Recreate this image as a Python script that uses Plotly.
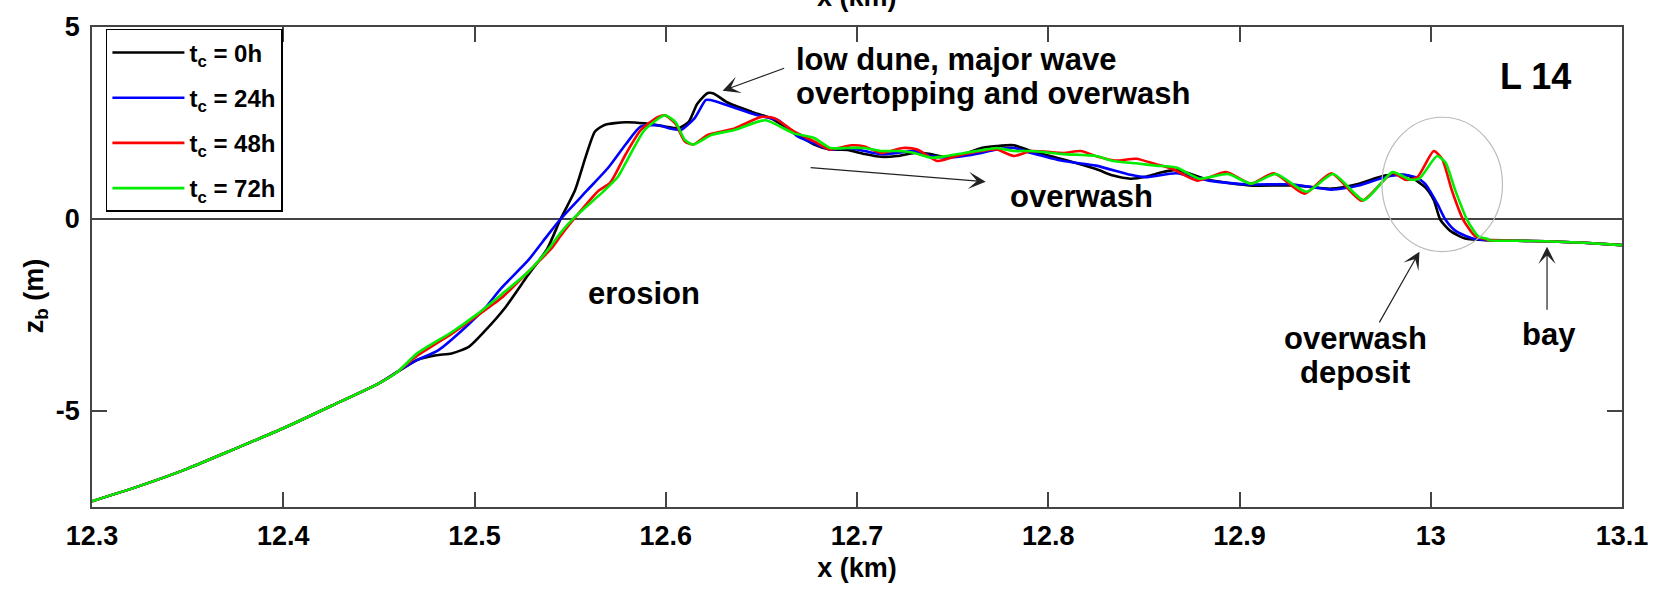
import plotly.graph_objects as go

# ---------------- data (x in km, z_b in m) ----------------
x_common = [12.3, 12.325, 12.35, 12.375, 12.4, 12.425, 12.45, 12.46]
z_common = [-7.35, -6.95, -6.5, -5.98, -5.45, -4.87, -4.28, -3.97]
x_bay = [13.03, 13.045, 13.06, 13.08, 13.1]
z_bay = [-0.55, -0.565, -0.58, -0.62, -0.68]

x_0h = [12.47, 12.48, 12.488, 12.497, 12.5057, 12.516, 12.528, 12.538, 12.545, 12.5525,
        12.558, 12.563, 12.568, 12.579, 12.589, 12.5995, 12.6065, 12.612, 12.6165, 12.622,
        12.625, 12.632, 12.645, 12.655, 12.665, 12.6776, 12.686, 12.695, 12.704, 12.7125,
        12.721, 12.730, 12.7385, 12.747, 12.756, 12.765, 12.773, 12.782, 12.791, 12.808,
        12.825, 12.834, 12.843, 12.851, 12.858, 12.867, 12.884, 12.905, 12.928, 12.948,
        12.9625, 12.976, 12.988, 12.997, 13.0016, 13.005, 13.0102, 13.018, 13.0295]
z_0h = [-3.67, -3.55, -3.5, -3.33, -2.9, -2.31, -1.46, -0.78, 0.0, 0.74,
        1.6, 2.28, 2.45, 2.52, 2.49, 2.41, 2.36, 2.53, 3.0, 3.28,
        3.27, 3.04, 2.79, 2.62, 2.32, 1.94, 1.81, 1.8, 1.69, 1.62,
        1.64, 1.72, 1.69, 1.6, 1.69, 1.85, 1.9, 1.92, 1.77, 1.55,
        1.3, 1.13, 1.05, 1.1, 1.2, 1.28, 1.02, 0.875, 0.875, 0.79,
        0.92, 1.13, 1.13, 0.83, 0.49, -0.02, -0.31, -0.51, -0.55]

x_24h = [12.47, 12.481, 12.497, 12.5057, 12.514, 12.528, 12.538, 12.545, 12.559, 12.570,
         12.579, 12.587, 12.596, 12.603, 12.608, 12.615, 12.621, 12.6235, 12.634, 12.648,
         12.659, 12.669, 12.6776, 12.686, 12.695, 12.704, 12.7125, 12.721, 12.730, 12.7385,
         12.747, 12.756, 12.765, 12.773, 12.782, 12.791, 12.808, 12.825, 12.843, 12.851,
         12.867, 12.884, 12.905, 12.928, 12.948, 12.9625, 12.976, 12.985, 12.992, 12.997,
         13.0033, 13.0077, 13.013, 13.0216, 13.030]
z_24h = [-3.67, -3.42, -2.74, -2.31, -1.8, -1.08, -0.44, 0.0, 0.75, 1.34,
         1.94, 2.41, 2.44, 2.35, 2.32, 2.62, 3.1, 3.1, 2.93, 2.70,
         2.57, 2.15, 1.97, 1.81, 1.85, 1.77, 1.69, 1.72, 1.77, 1.64,
         1.6, 1.64, 1.72, 1.81, 1.85, 1.72, 1.51, 1.39, 1.15, 1.09,
         1.19, 1.0, 0.9, 0.9, 0.765, 0.875, 1.09, 1.16, 1.09, 0.92,
         0.41, -0.02, -0.31, -0.5, -0.55]

x_48h = [12.47, 12.488, 12.5, 12.514, 12.528, 12.540, 12.545, 12.552, 12.565, 12.571,
         12.579, 12.587, 12.596, 12.5995, 12.605, 12.610, 12.6145, 12.622, 12.636, 12.650,
         12.657, 12.667, 12.6776, 12.686, 12.697, 12.704, 12.7125, 12.724, 12.7315, 12.742,
         12.752, 12.765, 12.773, 12.782, 12.791, 12.808, 12.817, 12.826, 12.835, 12.846,
         12.856, 12.865, 12.878, 12.893, 12.906, 12.918, 12.934, 12.948, 12.964, 12.980,
         12.987, 12.993, 13.0016, 13.006, 13.011, 13.017, 13.023, 13.028]
z_48h = [-3.56, -2.99, -2.57, -2.06, -1.38, -0.78, -0.44, 0.0, 0.74, 0.95,
         1.68, 2.32, 2.66, 2.70, 2.49, 2.02, 1.94, 2.19, 2.36, 2.66,
         2.62, 2.28, 2.02, 1.81, 1.92, 1.89, 1.72, 1.85, 1.81, 1.51,
         1.64, 1.77, 1.81, 1.64, 1.77, 1.72, 1.77, 1.62, 1.52, 1.57,
         1.43, 1.30, 1.0, 1.22, 0.92, 1.19, 0.66, 1.19, 0.475, 1.2,
         1.02, 1.09, 1.77, 1.56, 0.75, -0.02, -0.44, -0.52]

x_72h = [12.47, 12.488, 12.5, 12.514, 12.528, 12.540, 12.545, 12.552, 12.567, 12.575,
         12.581, 12.589, 12.5995, 12.605, 12.610, 12.6145, 12.624, 12.636, 12.652, 12.667,
         12.6776, 12.686, 12.695, 12.704, 12.7125, 12.721, 12.730, 12.7385, 12.747, 12.756,
         12.765, 12.773, 12.782, 12.791, 12.808, 12.825, 12.834, 12.846, 12.856, 12.867,
         12.879, 12.894, 12.906, 12.919, 12.935, 12.949, 12.965, 12.98, 12.989, 12.994,
         13.0033, 13.0077, 13.0128, 13.019, 13.025, 13.03]
z_72h = [-3.5, -2.95, -2.53, -1.97, -1.38, -0.70, -0.36, 0.03, 0.70, 1.1,
         1.64, 2.32, 2.70, 2.53, 2.06, 1.94, 2.19, 2.32, 2.57, 2.23,
         2.11, 1.85, 1.85, 1.85, 1.77, 1.77, 1.72, 1.6, 1.64, 1.72,
         1.79, 1.85, 1.77, 1.77, 1.69, 1.64, 1.51, 1.45, 1.39, 1.34,
         1.05, 1.17, 0.92, 1.17, 0.71, 1.17, 0.49, 1.22, 1.03, 1.05,
         1.64, 1.47, 0.75, -0.02, -0.46, -0.52]

series_names = ["t<sub>c</sub> = 0h", "t<sub>c</sub> = 24h", "t<sub>c</sub> = 48h", "t<sub>c</sub> = 72h"]
series_x = [x_0h, x_24h, x_48h, x_72h]
series_z = [z_0h, z_24h, z_48h, z_72h]
series_colors = ["#000000", "#0000ff", "#ff0000", "#00ee00"]

x_ticks = [12.3, 12.4, 12.5, 12.6, 12.7, 12.8, 12.9, 13.0, 13.1]
x_ticktext = ["12.3", "12.4", "12.5", "12.6", "12.7", "12.8", "12.9", "13", "13.1"]
y_ticks = [-5, 0, 5]
y_ticktext = ["-5", "0", "5"]

FONT = "Liberation Sans"
AX = "#444444"

fig = go.Figure()
for name, xs, zs, col in zip(series_names, series_x, series_z, series_colors):
    fig.add_trace(go.Scatter(
        x=x_common + xs + x_bay, y=z_common + zs + z_bay, mode="lines", name=name,
        line=dict(color=col, width=2.6, shape="spline", smoothing=0.6),
        legendgroup=name,
    ))

fig.update_layout(
    width=1660, height=590,
    margin=dict(l=92, r=33, t=20, b=80),
    paper_bgcolor="white", plot_bgcolor="white",
    font=dict(family=FONT, size=27, color="black", weight="bold"),
    showlegend=True,
    legend=dict(
        x=0.0091, y=0.996, xanchor="left", yanchor="top",
        bordercolor="black", borderwidth=1.5, bgcolor="white",
        font=dict(family=FONT, size=24, color="black", weight="bold"),
        itemwidth=72, tracegroupgap=11,
    ),
    xaxis=dict(
        range=[12.3, 13.1], tickvals=x_ticks, ticktext=x_ticktext,
        ticks="inside", ticklen=15, tickwidth=1.5, tickcolor=AX,
        showline=True, linecolor=AX, linewidth=1.5, mirror="ticks",
        showgrid=False, zeroline=False,
        tickfont=dict(size=27), ticklabelstandoff=4,
        title=dict(text="x (km)", font=dict(size=27), standoff=8),
    ),
    yaxis=dict(
        range=[-7.5, 5], tickvals=y_ticks, ticktext=y_ticktext,
        ticks="inside", ticklen=15, tickwidth=1.5, tickcolor=AX,
        showline=True, linecolor=AX, linewidth=1.5, mirror="ticks",
        showgrid=False, zeroline=True, zerolinecolor=AX, zerolinewidth=1.5,
        tickfont=dict(size=27), ticklabelstandoff=5,
    ),
)

# y axis title (positioned manually)
fig.add_annotation(text="z<sub>b</sub> (m)", textangle=-90, xref="paper", yref="paper",
                   x=-0.037, y=0.44, xanchor="center", yanchor="middle", showarrow=False,
                   font=dict(size=27))
# clipped title of the panel above
fig.add_annotation(text="x (km)", xref="paper", yref="paper", x=0.5, y=1.0,
                   xanchor="center", yanchor="bottom", yshift=13, showarrow=False,
                   font=dict(size=27))

TXT = dict(size=31, family=FONT, color="black", weight="bold")
fig.add_annotation(text="low dune, major wave", x=12.6672, y=4.16, xanchor="left",
                   yanchor="middle", showarrow=False, font=TXT)
fig.add_annotation(text="overtopping and overwash", x=12.6672, y=3.27, xanchor="left",
                   yanchor="middle", showarrow=False, font=TXT)
fig.add_annotation(text="L 14", x=13.0546, y=3.71, xanchor="center", yanchor="middle",
                   showarrow=False, font=dict(size=36, family=FONT, color="black", weight="bold"))
fig.add_annotation(text="overwash", x=12.779, y=0.58, xanchor="left", yanchor="middle",
                   showarrow=False, font=TXT)
fig.add_annotation(text="erosion", x=12.5887, y=-1.93, xanchor="center", yanchor="middle",
                   showarrow=False, font=TXT)
fig.add_annotation(text="overwash", x=12.9605, y=-3.1, xanchor="center", yanchor="middle",
                   showarrow=False, font=TXT)
fig.add_annotation(text="deposit", x=12.9605, y=-4.0, xanchor="center", yanchor="middle",
                   showarrow=False, font=TXT)
fig.add_annotation(text="bay", x=13.0618, y=-3.02, xanchor="center", yanchor="middle",
                   showarrow=False, font=TXT)

ARROW = dict(showarrow=True, arrowhead=3, arrowsize=2.4, arrowwidth=1.2,
             arrowcolor="#222222", axref="x", ayref="y", text="")
fig.add_annotation(x=12.6297, y=3.34, ax=12.6627, ay=3.94, **ARROW)
fig.add_annotation(x=12.7673, y=0.97, ax=12.675, ay=1.34, **ARROW)
fig.add_annotation(x=12.9941, y=-0.85, ax=12.9727, ay=-2.73, **ARROW)
fig.add_annotation(x=13.0608, y=-0.72, ax=13.0608, ay=-2.4, **ARROW)

# ellipse around the overwash deposit
fig.add_shape(type="circle", xref="x", yref="y", x0=12.9745, x1=13.0375, y0=-0.85, y1=2.65,
              line=dict(color="#bbbbbb", width=1.2))

fig.write_html("out.html")
